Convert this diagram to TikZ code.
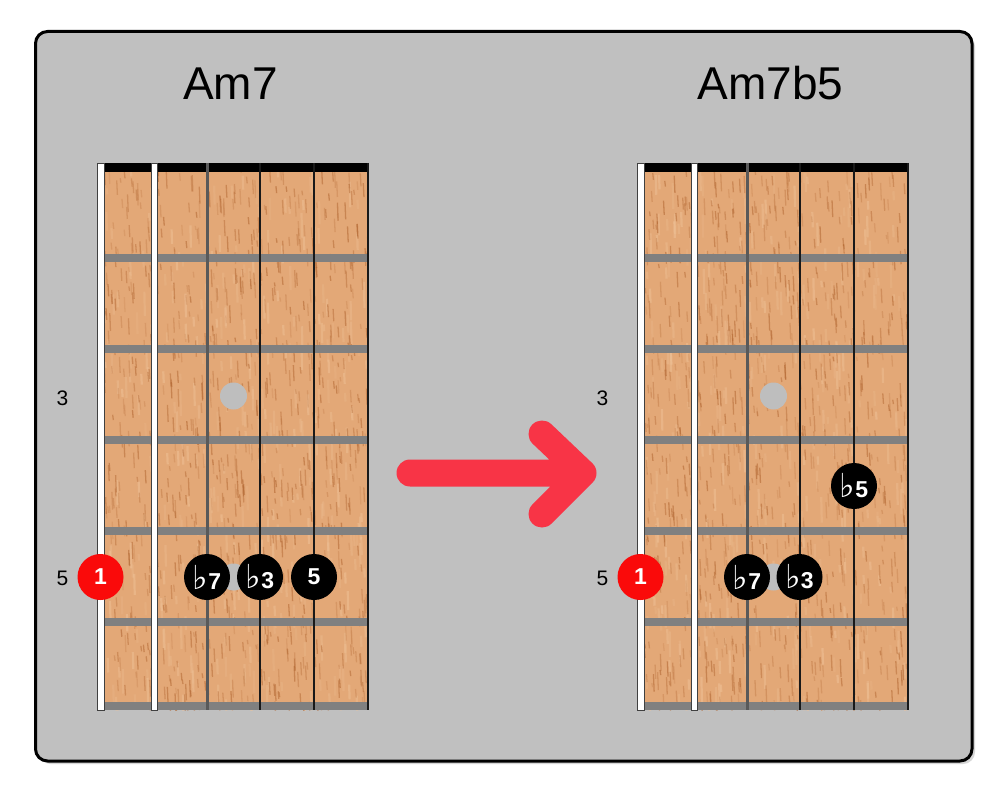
\documentclass[tikz,border=0pt]{standalone}
\usepackage{fontspec}
\setmainfont{Liberation Sans}
\newfontfamily\symfont{DejaVu Sans}
\definecolor{boxgray}{HTML}{C0C0C0}
\definecolor{wood}{HTML}{E3A877}
\definecolor{grainc}{HTML}{B0642F}
\definecolor{grainl}{HTML}{F0C49A}
\definecolor{fretc}{HTML}{808080}
\definecolor{inlayc}{HTML}{BEBEBE}
\definecolor{arrowred}{HTML}{F83446}
\definecolor{dotred}{HTML}{FA0A0A}
\tikzset{
  titletext/.style={font=\fontsize{46}{50}\selectfont, anchor=base},
  fretnum/.style={font=\fontsize{21}{22}\selectfont, text=black},
  notedot/.style={circle, fill=black, minimum size=46pt, inner sep=0pt, text=white,
    font=\fontsize{23}{24}\selectfont\bfseries},
  rootdot/.style={notedot, fill=dotred},
  whitestring/.style={fill=white, draw=black!75, line width=0.8pt},
  midstring/.style={draw=black!65, line width=3pt},
  thinstring/.style={draw=black!90, line width=1.8pt},
  arrowstroke/.style={draw=arrowred, line width=27pt, line cap=round, line join=round},
}
\newcommand\flt{{\symfont\fontsize{33}{33}\selectfont ♭}}
\newcommand\fretboard[2]{%
\begin{scope}[xshift=#1]
  \fill[wood] (101,172) rectangle (368,710);
  \begin{scope}
    \clip (101,172) rectangle (368,710);
    \foreach \k in {1,...,350}{
      \pgfmathsetmacro\sx{101+rnd*267}
      \pgfmathsetmacro\sy{168+rnd*545}
      \pgfmathsetmacro\sl{6+rnd*20}
      \pgfmathsetmacro\so{0.15+rnd*0.35}
      \draw[grainl, line width=2.2pt, opacity=\so] (\sx,\sy) -- ++(0.5,\sl);
    }
    \foreach \k in {1,...,900}{
      \pgfmathsetmacro\sx{101+rnd*267}
      \pgfmathsetmacro\sy{168+rnd*545}
      \pgfmathsetmacro\sl{4+rnd*14}
      \pgfmathsetmacro\so{0.15+rnd*0.40}
      \draw[grainc, line width=1.3pt, opacity=\so] (\sx,\sy) -- ++(0.7,\sl);
    }
  \end{scope}
  \foreach \fy in {258,349,440,531,622}{\fill[fretc] (101,\fy-4) rectangle (368,\fy+4);}
  \fill[fretc] (101,702) rectangle (368,710);
  \fill[black] (101,163) rectangle (368,172);
  \fill[inlayc] (233.5,396) circle[radius=13.5];
  \fill[inlayc] (233.5,577) circle[radius=13.5];
  \filldraw[whitestring] (97.5,163) rectangle (104,710);
  \filldraw[whitestring] (151,163) rectangle (157,710);
  \draw[midstring] (207,163) -- (207,710);
  \draw[thinstring] (260,163) -- (260,710);
  \draw[thinstring] (314,163) -- (314,710);
  \draw[thinstring] (368,163) -- (368,710);
  \node[fretnum] (#2n3) at (62.5,398) {3};
  \node[fretnum] (#2n5) at (62.5,578) {5};
\end{scope}}
\begin{document}
\begin{tikzpicture}[x=1pt,y=-1pt]
  \pgfmathsetseed{4217}
  \useasboundingbox (0,0) rectangle (996,794);
  \fill[white] (0,0) rectangle (996,794);
  \fill[black!16, rounded corners=12pt] (38.5,34.5) rectangle (975,764);
  \filldraw[fill=boxgray, draw=black, line width=3pt, rounded corners=12pt] (35.5,31.5) rectangle (972,761);

  \node[titletext] (ltitle) at (230.5,100) {Am7};
  \node[titletext] (rtitle) at (770.5,100) {Am7b5};

  \fretboard{0pt}{L}
  \fretboard{540pt}{R}

  % left chord: Am7
  \node[rootdot]  (L1)  at (100.5,577) {1};
  \node[notedot]  (Lb7) at (207,577) {\flt 7};
  \node[notedot]  (Lb3) at (260,577) {\flt 3};
  \node[notedot]  (L5)  at (314,577) {5};

  % right chord: Am7b5
  \node[rootdot]  (R1)  at (640.5,577) {1};
  \node[notedot]  (Rb7) at (747,577) {\flt 7};
  \node[notedot]  (Rb3) at (799.5,577) {\flt 3};
  \node[notedot]  (Rb5) at (854,486) {\flt 5};

  % arrow
  \coordinate (astart) at (410,473);
  \coordinate (atip) at (583,473);
  \coordinate (aup) at (542,434);
  \coordinate (adown) at (542,514);
  \draw[arrowstroke] (astart) -- (atip) (aup) -- (atip) -- (adown);
\end{tikzpicture}
\end{document}
